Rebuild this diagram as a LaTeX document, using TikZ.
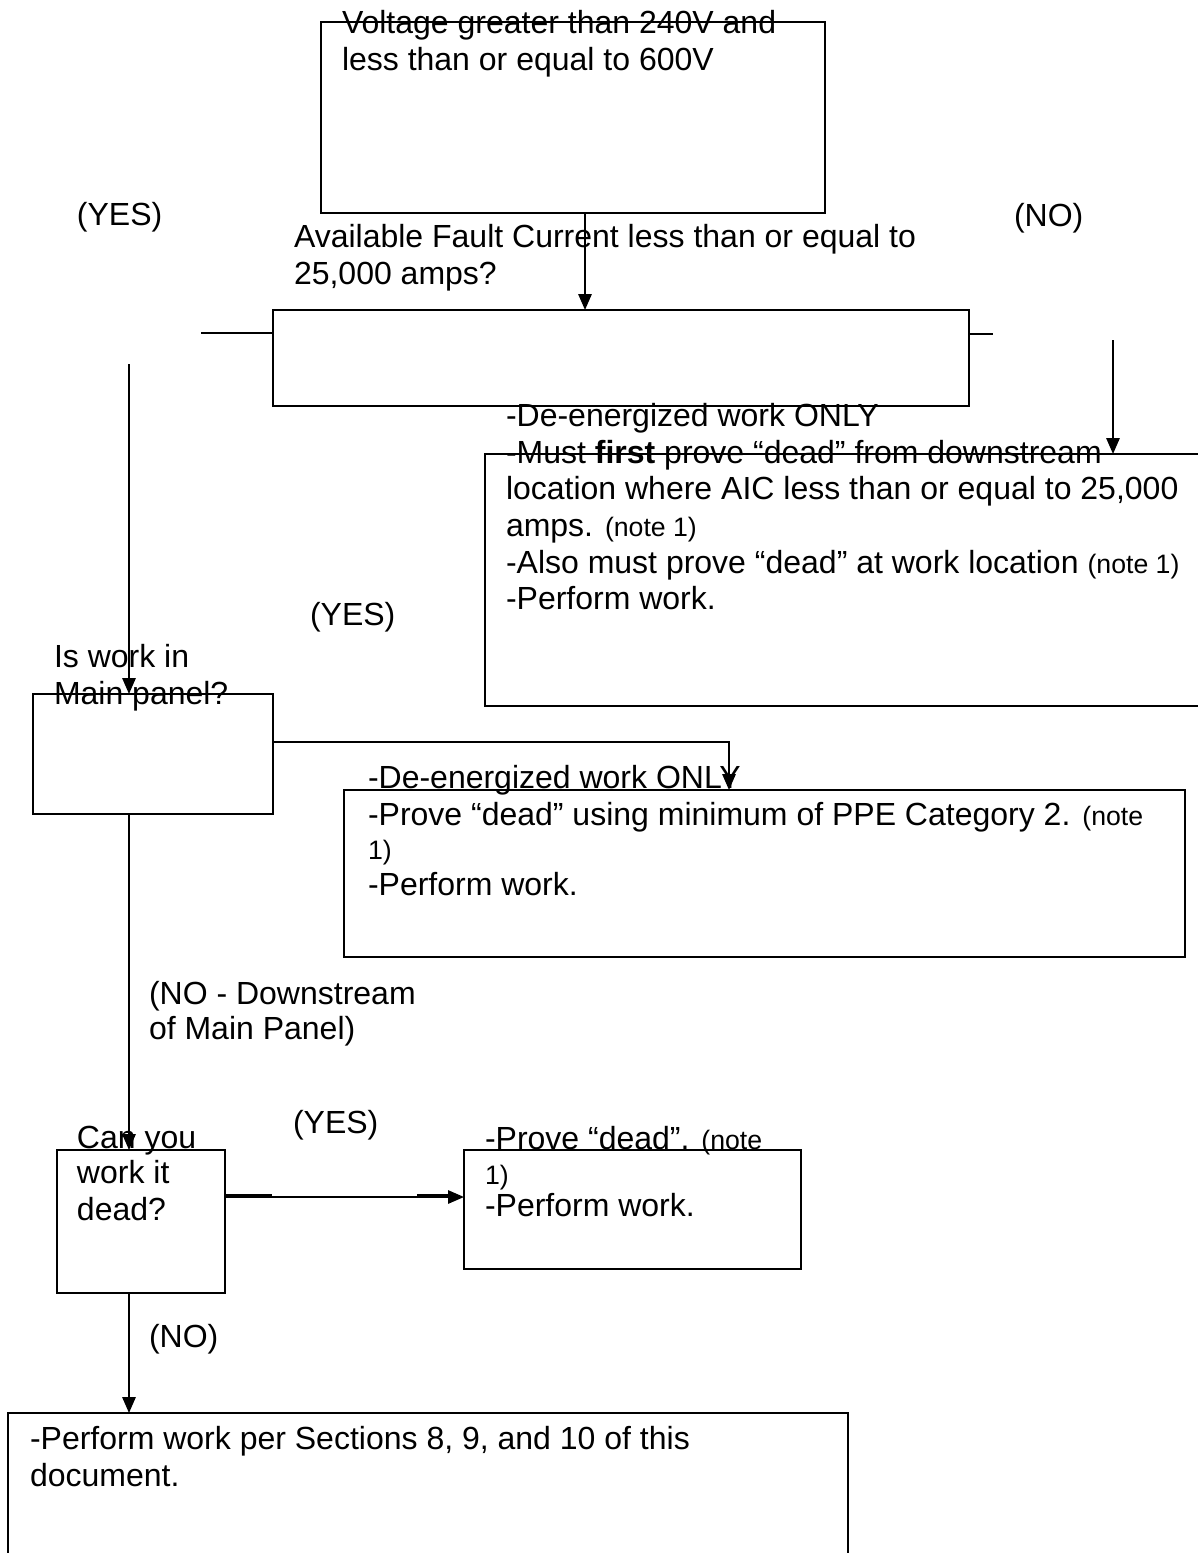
\documentclass[tikz,border=0pt]{standalone}
\usepackage{fontspec}
\setmainfont{Liberation Sans}
\usetikzlibrary{arrows.meta,calc}
% smaller type for the "(note 1)" references
\newcommand{\notetext}[1]{{\fontsize{10}{12}\selectfont #1}}

\begin{document}
\begin{tikzpicture}[x=0.375pt,y=-0.375pt,
  box/.style={draw, line width=0.75pt, inner sep=0pt, outer sep=0pt, anchor=north west},
  % text blocks are placed by the baseline of their first line:
  % a 10pt strut fixes the first line's height, and the node is lifted by it
  txt/.style={anchor=north west, inner sep=0pt, outer sep=0pt, align=left,
              yshift=10pt, execute at begin node={\rule{0pt}{10pt}},
              font=\fontsize{12}{13.75}\selectfont},
  link/.style={line width=0.75pt},
  arr/.style={link, -{Triangle[length=6pt,width=5pt]}},
  heavy/.style={line width=1.4pt}]
\useasboundingbox (0,0) rectangle (1198,1553);

% ---- boxes (positioned by their top-left corner)
\node[box, minimum width=189pt,     minimum height=71.625pt] (b1) at (321,22)   {};
\node[box, minimum width=261pt,     minimum height=36pt]     (b2) at (273,310)  {};
\node[box, minimum width=90pt,      minimum height=45pt]     (b3) at (33,694)   {};
\node[box, minimum width=271.875pt, minimum height=94.5pt]   (b4) at (485,454)  {};
\node[box, minimum width=315.375pt, minimum height=62.625pt] (b5) at (344,790)  {};
\node[box, minimum width=63pt,      minimum height=53.625pt] (b6) at (57,1150)  {};
\node[box, minimum width=126.375pt, minimum height=44.625pt] (b7) at (464,1150) {};
\node[box, minimum width=315pt,     minimum height=58.875pt] (b8) at (8,1413)   {};

% ---- texts
\node[txt] (t1) at (342,37) {Voltage greater than 240V and\\less than or equal to 600V};
\node[txt] (tq) at (294,251) {Available Fault Current less than or equal to\\25,000 amps?};
\node[txt] (yes1) at (77,225) {(YES)};
\node[txt] (no1) at (1014,226) {(NO)};
\node[txt] (t4) at (506,430) {-De-energized work ONLY\\
  -Must \textbf{first} prove “dead” from downstream\\
  location where AIC less than or equal to 25,000\\
  amps. \notetext{(note 1)}\\
  -Also must prove “dead” at work location \notetext{(note 1)}\\
  -Perform work.};
\node[txt] (yes2) at (310,625) {(YES)};
\node[txt] (t3) at (54,671) {Is work in\\Main panel?};
\node[txt] (t5) at (368,792) {-De-energized work ONLY\\
  -Prove “dead” using minimum of PPE Category 2. \notetext{(note}\\[-1pt]
  \notetext{1)}\\
  -Perform work.};
\node[txt] (tdown) at (149,1008) {(NO - Downstream\\[-0.6pt]of Main Panel)};
\node[txt] (yes3) at (293,1133) {(YES)};
\node[txt] (t6) at (77,1153) {Can you\\[-0.6pt]work it\\dead?};
\node[txt] (t7) at (485,1153) {-Prove “dead”. \notetext{(note}\\[-0.6pt]
  \notetext{1)}\\[-1.75pt]
  -Perform work.};
\node[txt] (no2) at (149,1347) {(NO)};
\node[txt] (t8) at (30,1453) {-Perform work per Sections 8, 9, and 10 of this\\document.};

% ---- free ends of the open connectors
\coordinate (lstub) at (201,333);
\coordinate (rstub) at (993,334);
\coordinate (ltop) at (129,364);
\coordinate (rtop) at (1113,340);

% ---- connectors
\draw[arr] ($(b1.south west)+(264,0)$) -- ($(b2.north west)+(312,0)$);
\draw[link] (lstub) -- (lstub -| b2.west);
\draw[link] (rstub -| b2.east) -- (rstub);
\draw[arr] (ltop) -- ($(b3.north west)+(96,0)$);
\draw[arr] (rtop) -- (rtop |- b4.north);
\draw[arr] ($(b3.north east)+(0,48)$) -| ($(b5.north west)+(385,0)$);
\draw[arr] ($(b3.south west)+(96,0)$) -- ($(b6.north west)+(72,0)$);
\draw[arr] ($(b6.north east)+(0,47)$) -- ($(b7.north west)+(0,47)$);
\draw[heavy] ($(b6.north east)+(0,46)$) -- ($(b6.north east)+(47,46)$);
\draw[heavy] ($(b7.north west)+(-47,46)$) -- ($(b7.north west)+(-8,46)$);
\draw[arr] ($(b6.south west)+(72,0)$) -- ($(b8.north west)+(121,0)$);
\end{tikzpicture}
\end{document}
